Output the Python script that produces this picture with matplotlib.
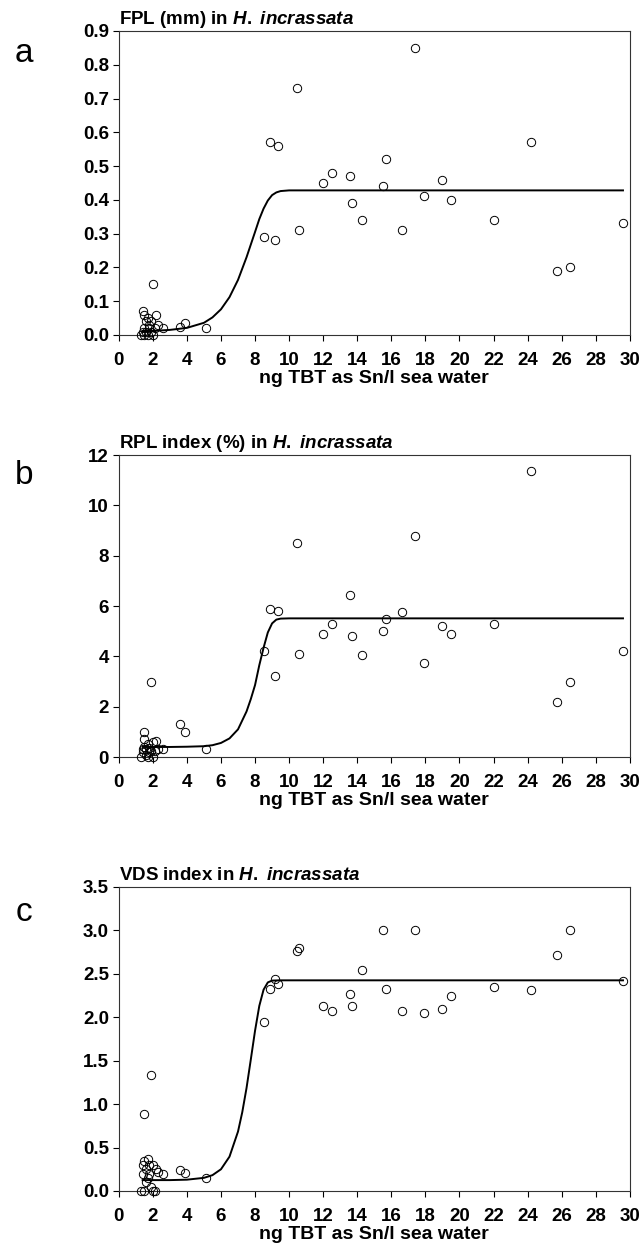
import numpy as np
import matplotlib
matplotlib.use('Agg')
import matplotlib.pyplot as plt

plt.rcParams['font.family'] = ['Liberation Sans', 'DejaVu Sans']
plt.rcParams['mathtext.fontset'] = 'custom'
plt.rcParams['mathtext.it'] = 'Liberation Sans:italic:bold'
plt.rcParams['mathtext.rm'] = 'Liberation Sans:bold'

# TBT concentration (ng TBT as Sn/l) at each site, shared by the three panels
tbt = [1.3, 1.4, 1.4, 1.5, 1.5, 1.5, 1.6, 1.6, 1.7, 1.7, 1.8, 1.8, 1.9, 1.9, 2.0, 2.0, 2.1, 2.2, 2.3, 2.6,
       3.6, 3.9, 5.1,
       8.5, 8.85, 9.15, 9.35, 10.45, 10.6, 12.0, 12.5, 13.55, 13.7, 14.3, 15.5, 15.7, 16.6, 17.4, 17.9,
       19.0, 19.5, 22.0, 24.2, 25.7, 26.5, 29.6]

# a - female penis length (mm)
fpl = [0.0, 0.01, 0.07, 0.06, 0.02, 0.0, 0.04, 0.01, 0.05, 0.0, 0.03, 0.02, 0.01, 0.04, 0.15, 0.0, 0.02, 0.06, 0.03, 0.02,
       0.025, 0.034, 0.02,
       0.29, 0.57, 0.28, 0.56, 0.73, 0.31, 0.45, 0.48, 0.47, 0.39, 0.34, 0.44, 0.52, 0.31, 0.85, 0.41,
       0.46, 0.40, 0.34, 0.57, 0.19, 0.20, 0.33]

# b - relative penis length index (%)
rpl = [0.0, 0.3, 0.2, 1.0, 0.7, 0.4, 0.3, 0.1, 0.5, 0.0, 0.35, 0.2, 3.0, 0.25, 0.6, 0.0, 0.25, 0.65, 0.3, 0.3,
       1.3, 1.0, 0.3,
       4.2, 5.9, 3.2, 5.8, 8.5, 4.1, 4.9, 5.3, 6.45, 4.8, 4.05, 5.0, 5.5, 5.75, 8.8, 3.75,
       5.2, 4.9, 5.3, 11.35, 2.2, 3.0, 4.2]

# c - vas deferens sequence index
vds = [0.0, 0.2, 0.3, 0.89, 0.0, 0.35, 0.25, 0.1, 0.37, 0.15, 0.3, 0.2, 1.34, 0.05, 0.3, 0.0, 0.0, 0.25, 0.22, 0.19,
       0.24, 0.21, 0.15,
       1.95, 2.33, 2.44, 2.38, 2.76, 2.80, 2.13, 2.07, 2.27, 2.13, 2.54, 3.0, 2.32, 2.07, 3.0, 2.05,
       2.10, 2.24, 2.35, 2.31, 2.72, 3.0, 2.42]

# fitted curves
curve_a_x = [1.4, 2, 3, 4, 5, 5.5, 6, 6.5, 7, 7.5, 8, 8.25, 8.5, 8.75, 9, 9.25, 9.5, 10, 11, 29.6]
curve_a_y = [0.012, 0.012, 0.015, 0.021, 0.036, 0.052, 0.076, 0.112, 0.163, 0.23, 0.305, 0.343, 0.374,
             0.398, 0.414, 0.422, 0.426, 0.428, 0.428, 0.428]
curve_b_x = [1.4, 2, 3, 4, 5, 5.5, 6, 6.5, 7, 7.5, 7.75, 8, 8.25, 8.5, 8.75, 9, 9.25, 9.5, 10, 11, 29.6]
curve_b_y = [0.4, 0.4, 0.4, 0.41, 0.43, 0.47, 0.56, 0.74, 1.10, 1.81, 2.30, 2.86, 3.65, 4.34, 4.95,
             5.31, 5.46, 5.50, 5.51, 5.51, 5.51]
curve_c_x = [1.4, 2, 3, 4, 5, 5.5, 6, 6.5, 7, 7.25, 7.5, 7.75, 8, 8.25, 8.5, 8.75, 9, 9.5, 10, 29.6]
curve_c_y = [0.125, 0.125, 0.125, 0.13, 0.151, 0.182, 0.25, 0.395, 0.684, 0.907, 1.185, 1.512, 1.845,
             2.131, 2.317, 2.401, 2.422, 2.425, 2.425, 2.425]

titles = ['FPL (mm) in $\\mathit{H.}$ $\\mathit{incrassata}$',
          'RPL index (%) in $\\mathit{H.}$ $\\mathit{incrassata}$',
          'VDS index in $\\mathit{H.}$ $\\mathit{incrassata}$']
letters = ['a', 'b', 'c']
ylims = [(0, 0.9), (0, 12), (0, 3.5)]
yticks = [np.arange(0, 0.91, 0.1), np.arange(0, 12.1, 2), np.arange(0, 3.51, 0.5)]
yfmt = ['%.1f', '%d', '%.1f']
xticks = np.arange(0, 31, 2)
xlabel = 'ng TBT as Sn/l sea water'

fig = plt.figure(figsize=(6.42, 12.48), dpi=100)
# axes boxes [left, bottom, width, height]
boxes = [[0.185, 0.7316, 0.796, 0.2436],
         [0.185, 0.3934, 0.796, 0.2420],
         [0.185, 0.0457, 0.796, 0.2436]]
letter_y = [0.957, 0.619, 0.269]

series = [(fpl, curve_a_x, curve_a_y), (rpl, curve_b_x, curve_b_y), (vds, curve_c_x, curve_c_y)]

for i in range(3):
    ax = fig.add_axes(boxes[i])
    vals, cx, cy = series[i]
    ax.plot(cx, cy, color='black', lw=1.4, zorder=2)
    ax.plot(tbt, vals, 'o', ms=6, mfc='none', mec='black', mew=0.7, zorder=3, clip_on=False)
    ax.set_xlim(0, 30)
    ax.set_ylim(*ylims[i])
    ax.set_xticks(xticks)
    ax.set_yticks(yticks[i])
    ax.set_yticklabels([yfmt[i] % v for v in yticks[i]])
    ax.tick_params(direction='out', length=4, width=0.8, labelsize=13.5)
    ax.tick_params(axis='x', pad=8)
    ax.tick_params(axis='y', pad=3)
    for lab in ax.get_xticklabels() + ax.get_yticklabels():
        lab.set_fontweight('bold')
    for sp in ax.spines.values():
        sp.set_linewidth(0.8)
        sp.set_color('#333333')
    ax.set_xlabel(xlabel, fontsize=14, fontweight='bold', labelpad=1)
    ax.set_title(titles[i], loc='left', fontsize=13.5, fontweight='bold', pad=5)
    fig.text(0.037, letter_y[i], letters[i], fontsize=24, ha='center', va='center')

plt.savefig('out.png', dpi=100)
